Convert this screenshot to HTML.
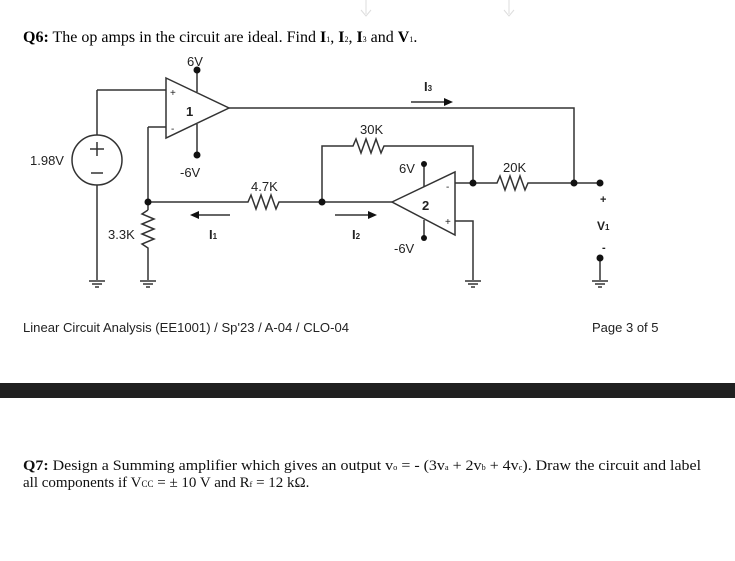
<!DOCTYPE html>
<html><head><meta charset="utf-8"><style>
html,body{margin:0;padding:0;background:#fff;}
svg{display:block}
.s{font-family:"Liberation Sans",sans-serif;}
.r{font-family:"Liberation Serif",serif;}
</style></head><body>
<svg width="735" height="561" viewBox="0 0 735 561" xmlns="http://www.w3.org/2000/svg">
<g stroke="#ddd" fill="none" stroke-width="1">
<path d="M366 0V14M361 10L366 16L371 10"/>
<path d="M509 0V14M504 10L509 16L514 10"/>
</g>
<text x="23" y="42" class="r" font-size="16"><tspan font-weight="bold">Q6:</tspan> The op amps in the circuit are ideal. Find <tspan font-weight="bold">I</tspan><tspan font-size="8">1</tspan>, <tspan font-weight="bold">I</tspan><tspan font-size="8">2</tspan>, <tspan font-weight="bold">I</tspan><tspan font-size="8">3</tspan> and <tspan font-weight="bold">V</tspan><tspan font-size="8">1</tspan>.</text>
<g stroke="#333" stroke-width="1.5" fill="none">
<path d="M166 78L229 108L166 138Z"/>
<path d="M197 70V92M197 124V155"/>
<path d="M97 90H166M97 90V135M97 185V280"/>
<circle cx="97" cy="160" r="25"/>
<path d="M148 127H166M148 127V210"/>
<path d="M148 202H248l3-7 5 14 5-14 5 14 5-14 5 14 3-7H322V146H353l3-7 5 14 5-14 5 14 5-14 5 14 3-7H473V183"/>
<path d="M148 210l-6 4 12 5-12 5 12 5-12 5 12 5-12 5 6 4V280"/>
<path d="M322 202H392"/>
<path d="M392 202L455 172L455 235Z"/>
<path d="M424 164V187M424 220V238"/>
<path d="M455 183H497l3-7 5 14 5-14 5 14 5-14 5 14 3-7H600"/>
<path d="M455 221H473V280"/>
<path d="M229 108H574V183"/>
<path d="M600 258V280"/>
<path d="M89 281H105M92 284H102M95 287H99"/>
<path d="M140 281H156M143 284H153M146 287H150"/>
<path d="M465 281H481M468 284H478M471 287H475"/>
<path d="M592 281H608M595 284H605M598 287H602"/>
<path d="M230 215H196M335 215H371M411 102H447"/>
<path d="M90 149H104M97 142V156M91 173H103"/>
</g>
<g fill="#111">
<path d="M190 215l9-4v8z"/><path d="M377 215l-9-4v8z"/><path d="M453 102l-9-4v8z"/>
<circle cx="197" cy="70" r="3.5"/><circle cx="197" cy="155" r="3.5"/>
<circle cx="148" cy="202" r="3.5"/><circle cx="322" cy="202" r="3.5"/>
<circle cx="473" cy="183" r="3.5"/><circle cx="574" cy="183" r="3.5"/><circle cx="600" cy="183" r="3.5"/>
<circle cx="600" cy="258" r="3.5"/>
<circle cx="424" cy="164" r="3"/><circle cx="424" cy="238" r="3"/>
</g>
<g class="s" font-size="13" fill="#222">
<text x="187" y="66">6V</text>
<text x="180" y="177">-6V</text>
<text x="30" y="165">1.98V</text>
<text x="108" y="239">3.3K</text>
<text x="251" y="191">4.7K</text>
<text x="360" y="134">30K</text>
<text x="503" y="172">20K</text>
<text x="399" y="173">6V</text>
<text x="394" y="253">-6V</text>
<text x="209" y="239" font-size="13" font-weight="bold">I<tspan font-size="8">1</tspan></text>
<text x="352" y="239" font-size="13" font-weight="bold">I<tspan font-size="8">2</tspan></text>
<text x="424" y="91" font-size="13" font-weight="bold">I<tspan font-size="8">3</tspan></text>
<text x="597" y="230" font-weight="bold" font-size="12">V<tspan font-size="8">1</tspan></text>
<text x="600" y="203" font-weight="bold" font-size="11">+</text>
<text x="602" y="251" font-weight="bold" font-size="11">-</text>
<text x="186" y="116" font-weight="bold" font-size="13">1</text>
<text x="422" y="210" font-weight="bold" font-size="13">2</text>
<text x="170" y="96" font-size="10">+</text>
<text x="171" y="132" font-size="10">-</text>
<text x="446" y="190" font-size="10">-</text>
<text x="445" y="225" font-size="10">+</text>
</g>
<text x="23" y="332" class="s" font-size="13" fill="#222" textLength="326" lengthAdjust="spacingAndGlyphs">Linear Circuit Analysis (EE1001) / Sp'23 / A-04 / CLO-04</text>
<text x="592" y="332" class="s" font-size="13" fill="#222">Page 3 of 5</text>
<rect x="0" y="383" width="735" height="15" fill="#202020"/>
<text x="23" y="470" class="r" font-size="15" fill="#111" textLength="678" lengthAdjust="spacingAndGlyphs"><tspan font-weight="bold">Q7:</tspan> Design a Summing amplifier which gives an output v<tspan font-size="8">o</tspan> = - (3v<tspan font-size="8">a</tspan> + 2v<tspan font-size="8">b</tspan> + 4v<tspan font-size="8">c</tspan>). Draw the circuit and label</text>
<text x="23" y="487" class="r" font-size="15" fill="#111">all components if V<tspan font-size="9">CC</tspan> = ± 10 V and R<tspan font-size="8">f</tspan> = 12 kΩ.</text>
</svg>
</body></html>
